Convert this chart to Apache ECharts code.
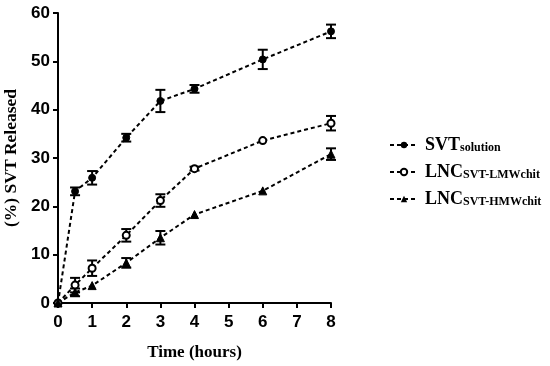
<!DOCTYPE html>
<html><head><meta charset="utf-8">
<script src="https://cdn.jsdelivr.net/npm/echarts@6/dist/echarts.min.js"></script>
<style>html,body{margin:0;padding:0;background:#fff}#c{width:550px;height:366px}</style>
</head><body><div id="c"></div>
<script>
var times = [0, 0.5, 1, 2, 3, 4, 6, 8];
var svtSolution = [0, 23.1, 25.9, 34.2, 41.8, 44.3, 50.4, 56.2];
var svtSolutionErr = [0, 0.8, 1.4, 0.8, 2.3, 0.8, 2.0, 1.4];
var lncLMW = [0, 3.7, 7.2, 14.0, 21.2, 27.8, 33.6, 37.2];
var lncLMWErr = [0, 1.5, 1.6, 1.3, 1.3, 0.4, 0.3, 1.5];
var lncHMW = [0, 2.2, 3.6, 8.3, 13.5, 18.3, 23.2, 30.8];
var lncHMWErr = [0, 0.8, 0.3, 1.0, 1.4, 0.3, 0.3, 1.2];
var seriesNames = ['SVT_solution', 'LNC_LMW', 'LNC_HMW'];

function pts(v){ return times.map(function(t,i){return [t, v[i]];}); }
function errData(v,e){ return times.map(function(t,i){return [t, v[i]-e[i], v[i]+e[i]];}); }
function errSeries(v,e){
  return {type:'custom', silent:true, z:3, data:errData(v,e),
    renderItem:function(params, api){
      var lo = api.coord([api.value(0), api.value(1)]);
      var hi = api.coord([api.value(0), api.value(2)]);
      if (Math.abs(lo[1]-hi[1]) < 3) return null;
      var w = 5;
      var st = {stroke:'#000', lineWidth:2};
      return {type:'group', children:[
        {type:'line', shape:{x1:lo[0],y1:lo[1],x2:hi[0],y2:hi[1]}, style:st},
        {type:'line', shape:{x1:lo[0]-w,y1:lo[1],x2:lo[0]+w,y2:lo[1]}, style:st},
        {type:'line', shape:{x1:hi[0]-w,y1:hi[1],x2:hi[0]+w,y2:hi[1]}, style:st}
      ]};
    }};
}
var lineStyle = {color:'#000', width:2, type:[4,3]};
var chart = echarts.init(document.getElementById('c'));
var serif = '"Liberation Serif","Times New Roman",serif';
var sans = '"Liberation Sans",Arial,sans-serif';
chart.setOption({
  animation:false,
  grid:{left:58, right:219, top:13, bottom:62},
  xAxis:{type:'value', min:0, max:8, interval:1,
    axisLine:{lineStyle:{color:'#000', width:2}},
    axisTick:{lineStyle:{color:'#000', width:2}, length:5},
    splitLine:{show:false},
    axisLabel:{color:'#000', fontFamily:sans, fontWeight:'bold', fontSize:17, margin:11},
    name:'Time (hours)', nameLocation:'middle', nameGap:41,
    nameTextStyle:{color:'#000', fontFamily:serif, fontWeight:'bold', fontSize:17}
  },
  yAxis:{type:'value', min:0, max:60, interval:10,
    axisLine:{show:true, lineStyle:{color:'#000', width:2}},
    axisTick:{show:true, lineStyle:{color:'#000', width:2}, length:5},
    splitLine:{show:false},
    axisLabel:{color:'#000', fontFamily:sans, fontWeight:'bold', fontSize:17, margin:8},
    name:'(%) SVT Released', nameLocation:'middle', nameGap:38,
    nameTextStyle:{color:'#000', fontFamily:serif, fontWeight:'bold', fontSize:17.5}
  },
  legend:{orient:'vertical', left:384, top:131, itemGap:9, itemWidth:28, itemHeight:8,
    data:seriesNames,
    formatter:function(n){
      if (n==='SVT_solution') return '{b|SVT}{s|solution}';
      if (n==='LNC_LMW') return '{b|LNC}{s|SVT-LMWchit}';
      return '{b|LNC}{s|SVT-HMWchit}';
    },
    textStyle:{color:'#000', padding:[0,0,0,2], rich:{
      b:{fontFamily:serif, fontWeight:'bold', fontSize:18, color:'#000', verticalAlign:'bottom', lineHeight:18},
      s:{fontFamily:serif, fontWeight:'bold', fontSize:12, color:'#000', verticalAlign:'bottom', padding:[6,0,0,0], lineHeight:18}
    }}
  },
  series:[
    {name:'SVT_solution', type:'line', data:pts(svtSolution), symbol:'circle', symbolSize:7,
     itemStyle:{color:'#000', borderColor:'#000'}, lineStyle:lineStyle, z:4},
    {name:'LNC_LMW', type:'line', data:pts(lncLMW), symbol:'circle', symbolSize:7,
     itemStyle:{color:'#fff', borderColor:'#000', borderWidth:2}, lineStyle:lineStyle, z:4},
    {name:'LNC_HMW', type:'line', data:pts(lncHMW), symbol:'triangle', symbolSize:8,
     itemStyle:{color:'#000', borderColor:'#000'}, lineStyle:lineStyle, z:4},
    errSeries(svtSolution, svtSolutionErr),
    errSeries(lncLMW, lncLMWErr),
    errSeries(lncHMW, lncHMWErr)
  ]
});
</script></body></html>
